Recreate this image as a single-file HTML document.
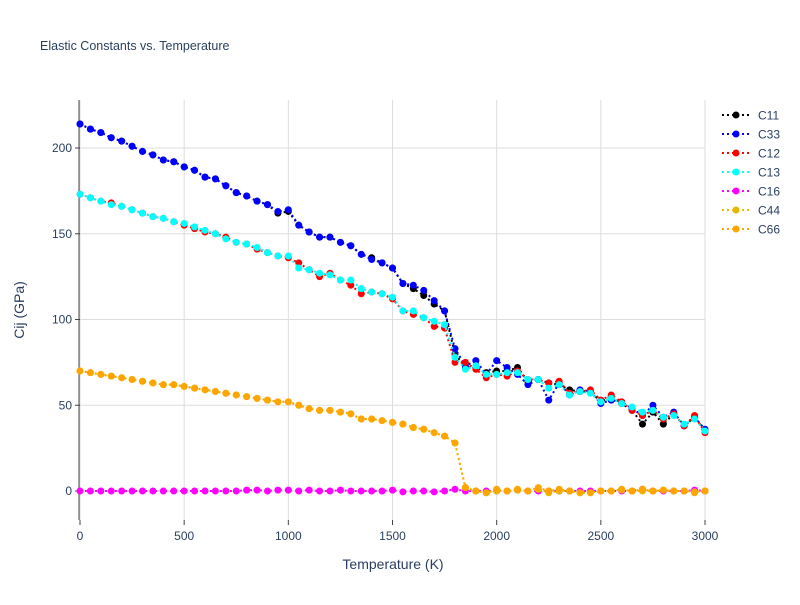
<!DOCTYPE html>
<html><head><meta charset="utf-8"><style>
body{margin:0;background:#fff;font-family:"Liberation Sans",sans-serif;}
svg text{font-family:"Liberation Sans",sans-serif;fill:#2a3f5f;}
</style></head><body>
<svg id="chart" width="800" height="600">
<text x="40" y="50" font-size="12.5">Elastic Constants vs. Temperature</text>
<g id="grid"></g><g id="axes"></g><g id="series"></g><g id="legend"></g>
<text x="393" y="569" font-size="14" text-anchor="middle">Temperature (K)</text>
<text x="24" y="310" font-size="14" text-anchor="middle" transform="rotate(-90 24 310)">Cij (GPa)</text>
</svg>
<script>
const temps=[];for(let t=0;t<=3000;t+=50)temps.push(t);
const seriesNames=["C11","C33","C12","C13","C16","C44","C66"];
const colors=["#000000","#0000ff","#ff0000","#00ffff","#ff00ff","#e6b800","#ffa500"];
const c33=[214,211,209,206,204,201,198,196,193,192,189,187,183,182,178,174,172,169,167,163,164,155,151,148,148,145,143,138,135,133,130,121,120,117,111,105,83,73,76,68,76,72,68,62,65,53,63,56,59,58,51,53,52,48,44,50,43,46,38,43,36];
const c11=[214,211,209,206,204,201,198,196,193,192,189,187,183,182,178,174,172,169,167,162,163,155,151,148,148,145,143,138,136,133,130,121,118,114,109,105,80,72,72,69,70,70,72,64,65,63,62,59,58,58,52,55,51,47,39,46,39,45,38,43,35];
const c12=[173,171,169,168,166,164,162,160,159,157,155,153,151,150,148,145,144,141,139,137,136,133,129,125,127,123,120,115,116,115,112,105,103,101,96,95,75,75,71,66,68,67,70,65,65,63,64,57,58,59,53,56,52,47,44,47,42,45,38,44,34];
const c13=[173,171,169,167,166,164,162,160,159,157,156,154,152,150,147,145,144,142,139,137,137,130,129,127,126,123,123,118,116,115,113,105,105,101,99,97,78,71,73,68,68,69,69,65,65,60,62,56,58,57,52,54,51,49,46,47,43,44,39,42,35];
const c16=[0,0,0,0,0,0,0,0,0,0,0,0,0,0,0,0,0.5,0.5,0,0.5,0.5,0,0.5,0,0,0.5,0,0,0,0,0.5,-0.5,0,0,-0.5,0,1,0,0,0,0,0,0.5,0,0,0,0,0,0,0,0,0,0,0,1,0,0,0,0,0.5,0];
const c44=[70,69,68,67,66,65,64,63,62,62,61,60,59,58,57,56,55,54,53,52,52,50,48,47,47,46,45,42,42,41,40,39,37,36,34,32,28,2,0,-1,0,0,0.5,0,1,-1,0,0,-1,-1,0,0,0.5,0,0,0,0.5,0,0,-0.5,0];
const c66=[70,69,68,67,66,65,64,63,62,62,61,60,59,58,57,56,55,54,53,52,52,50,48,47,47,46,45,42,42,41,40,39,37,36,34,32,28,2,0,-1,1,0,1,0,2,0,1,0,-1,-1,0,0,1,0,1,0,0.5,0,0,-1,0];
const allSeries=[c11,c33,c12,c13,c16,c44,c66];
const xTicks=[0,500,1000,1500,2000,2500,3000];
const yTicks=[0,50,100,150,200];
const X0=80,X1=705,YT=100,YB=520;
const xs=v=>X0+(v-0)/(3000-0)*(X1-X0);
const ys=v=>491-v*(343/200);
const NS="http://www.w3.org/2000/svg";
function mk(tag,attrs,parent){const e=document.createElementNS(NS,tag);for(const k in attrs)e.setAttribute(k,attrs[k]);parent.appendChild(e);return e;}
const grid=document.getElementById('grid'),axes=document.getElementById('axes'),ser=document.getElementById('series'),leg=document.getElementById('legend');
xTicks.forEach(t=>{const x=xs(t);
 const g=mk('line',{x1:x,x2:x,y1:YT,y2:YB,stroke:'#dddddd','stroke-width':1},grid);
 
 
 const tk=mk('line',{x1:x,x2:x,y1:YB,y2:YB+5,stroke:'#444'},axes);
 
 
 const tx=mk('text',{x:x,y:YB+20,'font-size':12,'text-anchor':'middle'},axes);tx.textContent=t;
 
 
});
yTicks.forEach(t=>{const y=ys(t);
 const g=mk('line',{x1:X0,x2:X1,y1:y,y2:y,stroke:'#dddddd','stroke-width':1},grid);
 
 
 const tk=mk('line',{x1:X0-5,x2:X0,y1:y,y2:y,stroke:'#444'},axes);
 
 
 const tx=mk('text',{x:X0-8,y:y+4,'font-size':12,'text-anchor':'end'},axes);tx.textContent=t;
 
 
});
const ax=mk('line',{x1:X0-1,x2:X0-1,y1:YT,y2:YB,stroke:'#444'},axes);


allSeries.forEach((d,i)=>{
 const g=mk('g',{},ser);
 
 
 const pts=d.map((v,j)=>xs(temps[j])+','+ys(v)).join(' ');
 const pl=mk('polyline',{points:pts,fill:'none',stroke:colors[i],'stroke-width':2,'stroke-dasharray':'2,3'},g);
 
 
 d.forEach((v,j)=>{const c=mk('circle',{cx:xs(temps[j]),cy:ys(v),r:3.5,fill:colors[i]},g);
  
  });
 const ly=115+i*19;
 const lg=mk('g',{},leg);
 
 
 mk('line',{x1:722,x2:750,y1:ly,y2:ly,stroke:colors[i],'stroke-width':2,'stroke-dasharray':'2,3'},lg);
 mk('circle',{cx:736,cy:ly,r:3.5,fill:colors[i]},lg);
 const t=mk('text',{x:758,y:ly+4.5,'font-size':12},lg);t.textContent=seriesNames[i];
});
</script>
</body></html>
